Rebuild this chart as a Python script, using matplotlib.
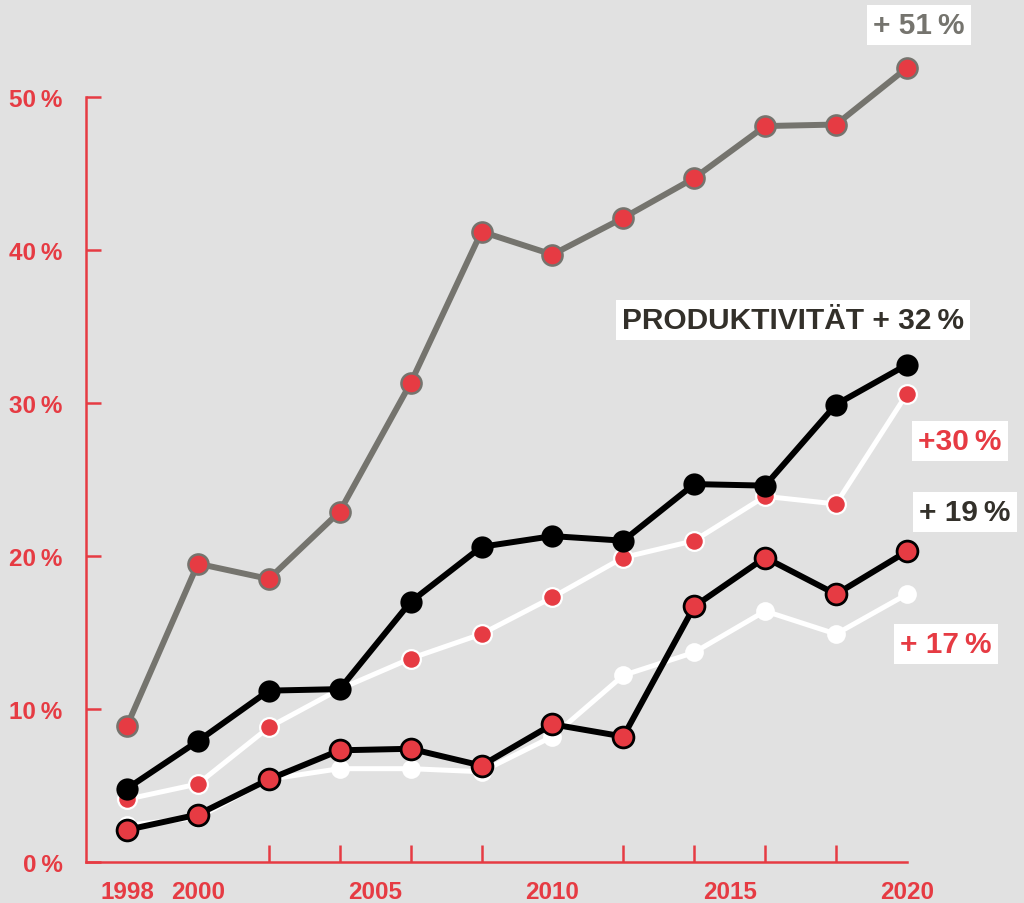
# -*- coding: utf-8 -*-
# Growth since 1998 (in %) for five series, productivity highlighted

import numpy as np
import matplotlib.pyplot as plt

plt.rcParams['font.family'] = ['Liberation Sans', 'DejaVu Sans']
plt.rcParams['font.weight'] = 'bold'

# Data
years = [1998, 2000, 2002, 2004, 2006, 2008, 2010, 2012, 2014, 2016, 2018, 2020]
grey_series = [8.9, 19.5, 18.5, 22.9, 31.3, 41.2, 39.7, 42.1, 44.7, 48.1, 48.2, 51.9]
productivity = [4.8, 7.9, 11.2, 11.3, 17.0, 20.6, 21.3, 21.0, 24.7, 24.6, 29.9, 32.5]
white_red = [4.1, 5.1, 8.8, 11.3, 13.3, 14.9, 17.3, 19.9, 21.0, 23.9, 23.4, 30.6]
black_red = [2.1, 3.1, 5.4, 7.3, 7.4, 6.3, 9.0, 8.2, 16.7, 19.9, 17.5, 20.3]
white_series = [2.4, 2.9, 5.4, 6.1, 6.1, 5.9, 8.2, 12.2, 13.7, 16.4, 14.9, 17.5]

y_ticks = [0, 10, 20, 30, 40, 50]
y_ticklabels = ['0\u2009%', '10\u2009%', '20\u2009%', '30\u2009%', '40\u2009%', '50\u2009%']
x_labels = [1998, 2000, 2005, 2010, 2015, 2020]

# Colours
RED = '#e63b43'
GREY = '#75746e'
DARK = '#33302a'
BG = '#e1e1e1'

fig = plt.figure(figsize=(10.24, 9.04), dpi=100, facecolor=BG)
ax = fig.add_axes([86/1024, 41/904, 938/1024, 863/904])
ax.set_facecolor(BG)

# 35.45 px per year, 15.3 px per percent point
ax.set_xlim(1998 - 41/35.45, 1998 + 897/35.45)
ax.set_ylim(0, 863/15.3)

def draw_series(y, lcolor, mface, medge, msize, lw, mew, z):
    ax.plot(years, y, color=lcolor, lw=lw, solid_capstyle='round',
            solid_joinstyle='round', zorder=z, clip_on=False)
    ax.plot(years, y, ls='none', marker='o', ms=msize, mfc=mface,
            mec=medge, mew=mew, zorder=z + 0.5, clip_on=False)

draw_series(white_series, 'white', 'white', 'white', 13.5, 3.6, 0, 2)
draw_series(white_red, 'white', RED, 'white', 13.5, 3.6, 1.6, 3)
draw_series(black_red, 'black', RED, 'black', 15.0, 4.3, 2.0, 4)
draw_series(productivity, 'black', 'black', 'black', 16.0, 4.3, 0, 5)
draw_series(grey_series, GREY, RED, GREY, 14.5, 4.3, 1.8, 6)

# Axes styling
for side in ['top', 'right']:
    ax.spines[side].set_visible(False)
for side in ['left', 'bottom']:
    ax.spines[side].set_color(RED)
    ax.spines[side].set_linewidth(1.8)
ax.spines['left'].set_bounds(0, 50)
ax.spines['bottom'].set_bounds(ax.get_xlim()[0], 2020)

ax.set_yticks(y_ticks)
ax.set_yticklabels(y_ticklabels)
ax.tick_params(axis='y', direction='in', length=11, width=1.8, color=RED,
               labelcolor=RED, labelsize=17.5, pad=17)

ax.set_xticks(x_labels)
ax.set_xticklabels([str(x) for x in x_labels])
ax.set_xticks(years, minor=True)
ax.tick_params(axis='x', which='major', length=0, labelcolor=RED,
               labelsize=17.5, pad=13)
ax.tick_params(axis='x', which='minor', direction='in', length=12,
               width=1.8, color=RED)

# End labels in white boxes
def end_label(px, py, text, tcolor):
    fig.text(px/1024, 1 - py/904, text, color=tcolor, fontsize=21.5,
             fontweight='bold', ha='center', va='center',
             bbox=dict(facecolor='white', edgecolor='none', pad=4.5))

end_label(919, 26, '+ 51\u2009%', GREY)
end_label(793, 321, 'PRODUKTIVITÄT + 32\u2009%', DARK)
end_label(960, 442, '+30\u2009%', RED)
end_label(965, 513, '+ 19\u2009%', DARK)
end_label(946, 645, '+ 17\u2009%', RED)

plt.savefig('out.png', dpi=100, facecolor=BG)
plt.close()
